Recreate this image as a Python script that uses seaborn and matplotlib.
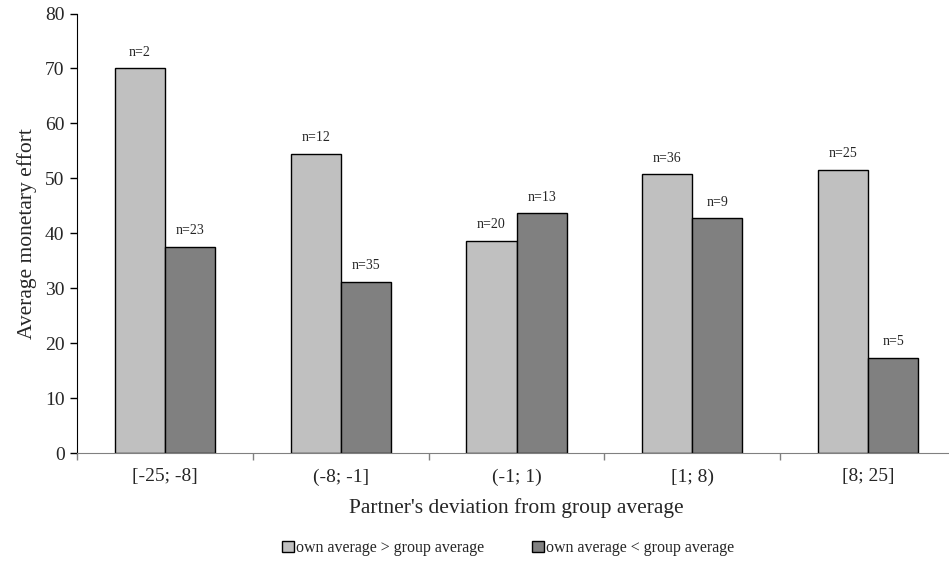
import numpy as np
import pandas as pd
import seaborn as sns
import matplotlib.pyplot as plt
from matplotlib.patches import Patch

categories = ["[-25; -8]", "(-8; -1]", "(-1; 1)", "[1; 8)", "[8; 25]"]
series_names = ["own average > group average", "own average < group average"]
above_vals = [70.0, 54.4, 38.6, 50.7, 51.6]
below_vals = [37.5, 31.1, 43.6, 42.7, 17.3]
above_n = [2, 12, 20, 36, 25]
below_n = [23, 35, 13, 9, 5]
colors = ["#c0c0c0", "#808080"]

sns.set_style("ticks")
plt.rcParams["font.family"] = ["Liberation Serif", "DejaVu Serif"]

df = pd.DataFrame({
    "Deviation": categories * 2,
    "Effort": above_vals + below_vals,
    "Group": [series_names[0]] * 5 + [series_names[1]] * 5,
})

fig = plt.figure(figsize=(9.49, 5.71), dpi=100)
ax = fig.add_axes([77 / 949, 118 / 571, 879 / 949, 439.5 / 571])

sns.barplot(data=df, x="Deviation", y="Effort", hue="Group", order=categories,
            hue_order=series_names, palette=colors, width=0.57, gap=0,
            edgecolor="black", linewidth=1, saturation=1, legend=False, ax=ax)

# sample sizes above each bar
for cont, ns in zip(ax.containers, [above_n, below_n]):
    ax.bar_label(cont, labels=[f"n={n}" for n in ns], padding=7, fontsize=10)

ax.set_xlim(-0.5, 4.5)
ax.set_ylim(0, 80)
ax.set_yticks(np.arange(0, 81, 10))
ax.tick_params(axis="y", labelsize=14, length=5, width=1, color="black", pad=4)
ax.tick_params(axis="x", which="major", length=0, labelsize=14, pad=11)
ax.set_xticks(np.arange(-0.5, 5, 1), minor=True)
ax.tick_params(axis="x", which="minor", length=5, width=1, color="#808080")

ax.spines["top"].set_visible(False)
ax.spines["right"].set_visible(False)
ax.spines["bottom"].set_color("#808080")
ax.spines["left"].set_color("black")

ax.set_xlabel("Partner's deviation from group average", fontsize=15.5, labelpad=9)
ax.set_ylabel("Average monetary effort", fontsize=15.5, labelpad=6)

handles = [Patch(facecolor=c, edgecolor="black", linewidth=1) for c in colors]
fig.legend(handles, series_names, loc="center", bbox_to_anchor=(508 / 949, 1 - 548 / 571),
           ncol=2, frameon=False, fontsize=11.5, handlelength=0.75, handleheight=0.75,
           handletextpad=0.15, columnspacing=3.0)

fig.savefig("out.png", dpi=100)
